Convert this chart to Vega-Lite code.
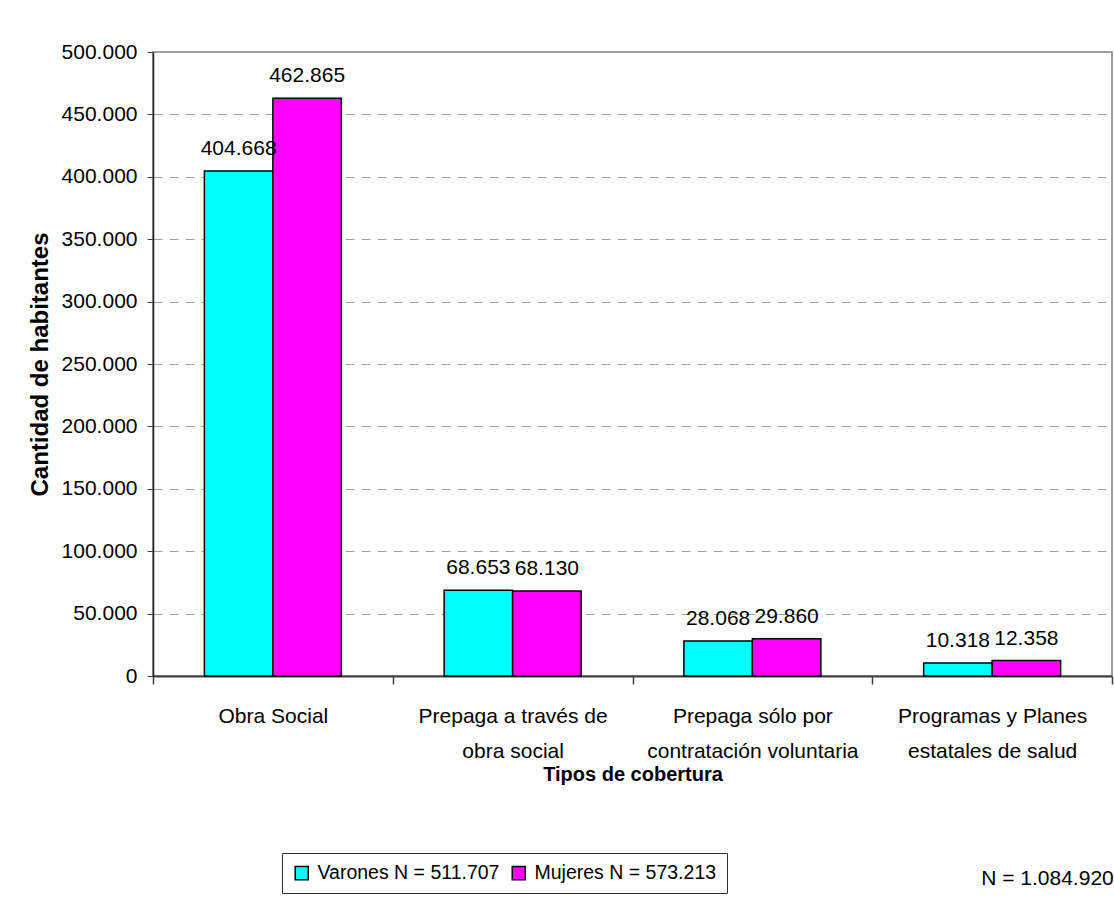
{
  "$schema": "https://vega.github.io/schema/vega-lite/v6.json",
  "autosize": "none",
  "width": 959,
  "height": 624,
  "padding": {"left": 153, "top": 52, "right": 2, "bottom": 221},
  "background": "white",
  "title": {
    "text": "N = 1.084.920",
    "orient": "bottom",
    "anchor": "end",
    "dx": 1,
    "offset": -26,
    "font": "Liberation Sans",
    "fontSize": 21,
    "fontWeight": "normal",
    "color": "black"
  },
  "data": {
    "values": [
      {"cobertura": "Obra Social", "sexo": "Varones N = 511.707", "habitantes": 404668},
      {"cobertura": "Obra Social", "sexo": "Mujeres N = 573.213", "habitantes": 462865},
      {"cobertura": "Prepaga  a través de\nobra social", "sexo": "Varones N = 511.707", "habitantes": 68653},
      {"cobertura": "Prepaga  a través de\nobra social", "sexo": "Mujeres N = 573.213", "habitantes": 68130},
      {"cobertura": "Prepaga sólo por\ncontratación voluntaria", "sexo": "Varones N = 511.707", "habitantes": 28068},
      {"cobertura": "Prepaga sólo por\ncontratación voluntaria", "sexo": "Mujeres N = 573.213", "habitantes": 29860},
      {"cobertura": "Programas y Planes\nestatales de salud", "sexo": "Varones N = 511.707", "habitantes": 10318},
      {"cobertura": "Programas y Planes\nestatales de salud", "sexo": "Mujeres N = 573.213", "habitantes": 12358}
    ]
  },
  "encoding": {
    "x": {
      "field": "cobertura",
      "type": "nominal",
      "sort": null,
      "scale": {"paddingInner": 0, "paddingOuter": 0},
      "axis": {
        "title": "Tipos de cobertura",
        "labelAngle": 0,
        "labelExpr": "split(datum.label, '\\n')",
        "labelLineHeight": 35,
        "labelLimit": 0,
        "labelFont": "Liberation Sans",
        "labelFontSize": 21,
        "labelColor": "black",
        "labelPadding": 21,
        "tickBand": "extent",
        "tickSize": 8,
        "tickColor": "#404040",
        "tickWidth": 1.5,
        "domainColor": "#404040",
        "domainWidth": 2,
        "grid": false,
        "titleFont": "Liberation Sans",
        "titleFontSize": 20,
        "titleFontWeight": "bold",
        "titleColor": "black",
        "titlePadding": 3
      }
    },
    "xOffset": {
      "field": "sexo",
      "type": "nominal",
      "sort": ["Varones N = 511.707", "Mujeres N = 573.213"],
      "scale": {"paddingInner": 0, "paddingOuter": 0.75}
    },
    "y": {
      "field": "habitantes",
      "type": "quantitative",
      "scale": {"domain": [0, 500000], "nice": false},
      "axis": {
        "title": "Cantidad de habitantes",
        "values": [0, 50000, 100000, 150000, 200000, 250000, 300000, 350000, 400000, 450000, 500000],
        "format": ",d",
        "labelFont": "Liberation Sans",
        "labelFontSize": 21,
        "labelColor": "black",
        "labelPadding": 10,
        "tickSize": 6,
        "tickColor": "#404040",
        "domainColor": "#202020",
        "domainWidth": 1.5,
        "gridColor": "#a0a0a0",
        "gridDash": [9, 7],
        "gridWidth": 1,
        "titleFont": "Liberation Sans",
        "titleFontSize": 24,
        "titleFontWeight": "bold",
        "titleColor": "black",
        "titlePadding": 9
      }
    }
  },
  "layer": [
    {
      "mark": {"type": "bar", "stroke": "black", "strokeWidth": 1.5},
      "encoding": {
        "color": {
          "field": "sexo",
          "type": "nominal",
          "sort": ["Varones N = 511.707", "Mujeres N = 573.213"],
          "scale": {"domain": ["Varones N = 511.707", "Mujeres N = 573.213"], "range": ["#00FFFF", "#FF00FF"]},
          "legend": {
            "title": null,
            "orient": "none",
            "legendX": 129,
            "legendY": 801,
            "direction": "horizontal",
            "strokeColor": "#303030",
            "padding": 10,
            "symbolType": "square",
            "symbolSize": 170,
            "symbolStrokeColor": "black",
            "symbolStrokeWidth": 1.5,
            "symbolOpacity": 1,
            "labelLimit": 0,
            "labelFont": "Liberation Sans",
            "labelFontSize": 19.5,
            "labelColor": "black",
            "labelOffset": 6,
            "columnPadding": 9
          }
        }
      }
    },
    {
      "mark": {"type": "text", "baseline": "bottom", "dy": -12, "font": "Liberation Sans", "fontSize": 21, "color": "black"},
      "encoding": {
        "text": {"field": "habitantes", "type": "quantitative", "format": ",d"}
      }
    }
  ],
  "config": {
    "locale": {"number": {"decimal": ",", "thousands": ".", "grouping": [3], "currency": ["$", ""]}},
    "view": {"stroke": "#808080", "strokeWidth": 1.5}
  }
}
